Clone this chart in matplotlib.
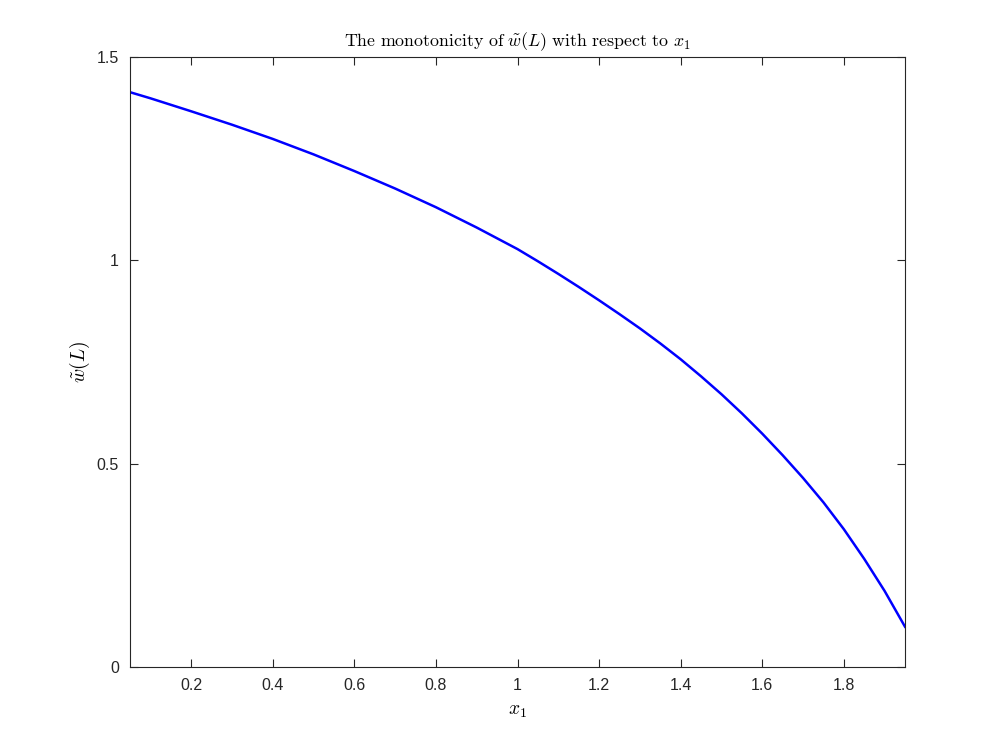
import matplotlib
matplotlib.use("Agg")
import matplotlib.pyplot as plt

# values
x1_vals = [0.05, 0.1, 0.2, 0.3, 0.4, 0.5, 0.6, 0.7, 0.8, 0.9, 1.0,
           1.05, 1.1, 1.15, 1.2, 1.25, 1.3, 1.35, 1.4, 1.45, 1.5,
           1.55, 1.6, 1.65, 1.7, 1.75, 1.8, 1.85, 1.9, 1.95]
w_vals = [1.414, 1.399, 1.367, 1.334, 1.299, 1.261, 1.220, 1.177, 1.131, 1.081, 1.028,
          0.998, 0.967, 0.935, 0.902, 0.868, 0.833, 0.796, 0.757, 0.715, 0.671,
          0.624, 0.574, 0.521, 0.465, 0.405, 0.339, 0.266, 0.187, 0.099]

x_ticks = [0.2, 0.4, 0.6, 0.8, 1.0, 1.2, 1.4, 1.6, 1.8]
x_ticklabels = ["0.2", "0.4", "0.6", "0.8", "1", "1.2", "1.4", "1.6", "1.8"]
y_ticks = [0, 0.5, 1.0, 1.5]
y_ticklabels = ["0", "0.5", "1", "1.5"]

plt.rcParams['mathtext.fontset'] = 'cm'
plt.rcParams['font.family'] = ['Liberation Sans', 'DejaVu Sans']

axcol = (0.15, 0.15, 0.15)

fig = plt.figure(figsize=(10, 7.5), dpi=100)
ax = fig.add_axes([0.13, 0.1107, 0.775, 0.813])

ax.plot(x1_vals, w_vals, color=(0, 0, 1), linewidth=1.8)

ax.set_xlim(0.05, 1.95)
ax.set_ylim(0, 1.5)
ax.set_xticks(x_ticks)
ax.set_xticklabels(x_ticklabels)
ax.set_yticks(y_ticks)
ax.set_yticklabels(y_ticklabels)

ax.tick_params(direction='in', top=True, right=True, length=6, width=0.8,
               colors=axcol, labelsize=11.5, pad=8)
for sp in ax.spines.values():
    sp.set_color(axcol)
    sp.set_linewidth(0.8)

ax.set_title(r'$\mathrm{The\ monotonicity\ of\ }\tilde{w}(L)\mathrm{\ with\ respect\ to\ }x_1$',
             fontsize=12.9, pad=8)
ax.set_xlabel(r'$x_1$', fontsize=14, labelpad=7)
ax.set_ylabel(r'$\tilde{w}(L)$', fontsize=14, labelpad=3)

fig.savefig("out.png", dpi=100)
